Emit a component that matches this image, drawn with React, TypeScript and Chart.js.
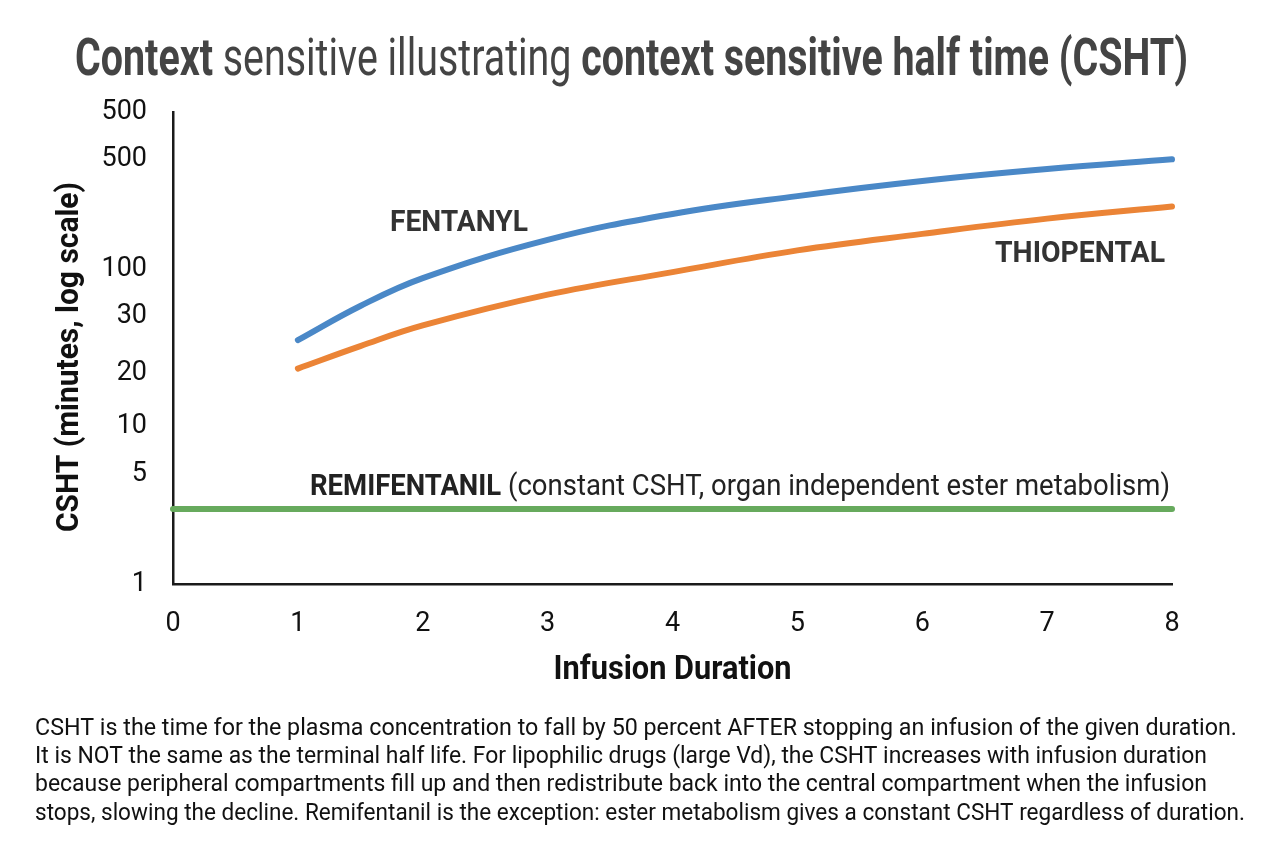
import React, { useEffect, useRef } from "react";
import { Chart, registerables } from "chart.js";

Chart.register(...registerables);

// ---------------- data ----------------
const durations = [1, 1.5, 2, 3, 4, 5, 6, 7, 8];
const fentanyl = [35.5, 58.5, 88, 154, 225, 292, 364, 434, 500];
const thiopental = [23.4, 32.5, 44, 69, 96, 132, 168, 210, 251];
const remiDurations = [0, 8];
const remifentanil = [3, 3];

const xTickValues = [0, 1, 2, 3, 4, 5, 6, 7, 8];
const yTickValues = [1, 5, 10, 22, 50, 100, 500, 1000];
const yTickLabels = ["1", "5", "10", "20", "30", "100", "500", "500"];

const titleRuns: [string, boolean][] = [
  ["Context", true],
  [" sensitive illustrating ", false],
  ["context sensitive half time (CSHT)", true],
];
const xAxisTitle = "Infusion Duration";
const yAxisTitle = "CSHT (minutes, log scale)";
const fentanylLabel = "FENTANYL";
const thiopentalLabel = "THIOPENTAL";
const remiRuns: [string, boolean][] = [
  ["REMIFENTANIL", true],
  [" (constant CSHT, organ independent ester metabolism)", false],
];
const captionLines = [
  "CSHT is the time for the plasma concentration to fall by 50 percent AFTER stopping an infusion of the given duration.",
  "It is NOT the same as the terminal half life. For lipophilic drugs (large Vd), the CSHT increases with infusion duration",
  "because peripheral compartments fill up and then redistribute back into the central compartment when the infusion",
  "stops, slowing the decline. Remifentanil is the exception: ester metabolism gives a constant CSHT regardless of duration.",
];

// ---------------- style constants ----------------
const FAMILY = "Roboto, 'Noto Sans', sans-serif";
const captionWidths = [1202, 1172, 1172, 1210];
const captionBaselines = [735, 763, 791, 820];

function runWidths(ctx: CanvasRenderingContext2D, runs: [string, boolean][], size: number) {
  return runs.map(([t, b]) => {
    ctx.font = `${b ? "bold " : ""}${size}px ${FAMILY}`;
    return ctx.measureText(t).width;
  });
}

// draws text runs horizontally condensed so the total width equals targetW
function drawRuns(
  ctx: CanvasRenderingContext2D,
  runs: [string, boolean][],
  x: number,
  y: number,
  size: number,
  targetW: number,
  color: string,
  align: "left" | "center" | "right" = "left"
) {
  const widths = runWidths(ctx, runs, size);
  const total = widths.reduce((a, b) => a + b, 0);
  const sx = targetW / total;
  const startX = align === "left" ? x : align === "center" ? x - targetW / 2 : x - targetW;
  ctx.save();
  ctx.translate(startX, y);
  ctx.scale(sx, 1);
  ctx.textAlign = "left";
  ctx.textBaseline = "alphabetic";
  ctx.fillStyle = color;
  let cx = 0;
  runs.forEach(([t, b], i) => {
    ctx.font = `${b ? "bold " : ""}${size}px ${FAMILY}`;
    ctx.fillText(t, cx, 0);
    cx += widths[i];
  });
  ctx.restore();
}

const textPlugin = {
  id: "cshtText",
  afterDraw(chart: any) {
    const ctx: CanvasRenderingContext2D = chart.ctx;
    const area = chart.chartArea;
    // Title
    drawRuns(ctx, titleRuns, 75, 75, 51, 1113, "#444444");
    // Series labels
    drawRuns(ctx, [[fentanylLabel, true]], 390, 231, 30, 138, "#333333");
    drawRuns(ctx, [[thiopentalLabel, true]], 1165, 262, 30, 170, "#333333", "right");
    drawRuns(ctx, remiRuns, 310, 495, 29, 860, "#222222");
    // X axis title
    drawRuns(ctx, [[xAxisTitle, true]], (area.left + area.right) / 2, 679, 33, 238, "#111111", "center");
    // Y axis title (rotated)
    ctx.save();
    ctx.translate(78, 357);
    ctx.rotate(-Math.PI / 2);
    drawRuns(ctx, [[yAxisTitle, true]], 0, 0, 31, 350, "#111111", "center");
    ctx.restore();
    // Caption
    captionLines.forEach((line, i) => {
      drawRuns(ctx, [[line, false]], 35, captionBaselines[i], 24, captionWidths[i], "#111111");
    });
  },
};

export default function App() {
  const canvasRef = useRef<HTMLCanvasElement | null>(null);

  useEffect(() => {
    const canvas = canvasRef.current;
    if (!canvas) return;
    const tickFont = { family: FAMILY, size: 27 };
    const chart = new Chart(canvas, {
      type: "line",
      data: {
        datasets: [
          {
            label: "Fentanyl",
            data: durations.map((d, i) => ({ x: d, y: fentanyl[i] })),
            borderColor: "#4a88c7",
            borderWidth: 6,
            borderCapStyle: "round",
            pointRadius: 0,
            tension: 0.4,
            fill: false,
            clip: false,
          },
          {
            label: "Thiopental",
            data: durations.map((d, i) => ({ x: d, y: thiopental[i] })),
            borderColor: "#eb8436",
            borderWidth: 6,
            borderCapStyle: "round",
            pointRadius: 0,
            tension: 0.4,
            fill: false,
            clip: false,
          },
          {
            label: "Remifentanil",
            data: remiDurations.map((d, i) => ({ x: d, y: remifentanil[i] })),
            borderColor: "#67aa5d",
            borderWidth: 6,
            borderCapStyle: "round",
            pointRadius: 0,
            fill: false,
            clip: false,
          },
        ],
      },
      options: {
        animation: false,
        responsive: true,
        maintainAspectRatio: false,
        layout: { padding: { top: 112, left: 0, right: 92, bottom: 154 } },
        plugins: {
          legend: { display: false },
          tooltip: { enabled: false },
          title: { display: false },
        },
        scales: {
          x: {
            type: "linear",
            min: 0,
            max: 8,
            grid: { display: false, drawTicks: false },
            border: { display: true, color: "#1a1a1a", width: 2.5 },
            ticks: {
              autoSkip: false,
              padding: 24,
              font: tickFont,
              color: "#111111",
              callback: (v: any) => String(v),
            },
            afterBuildTicks: (s: any) => {
              s.ticks = xTickValues.map((v) => ({ value: v }));
            },
            afterFit: (s: any) => {
              s.height = 110;
            },
          },
          y: {
            type: "logarithmic",
            min: 1,
            max: 1000,
            grid: { display: false, drawTicks: false },
            border: { display: true, color: "#1a1a1a", width: 2.5 },
            ticks: {
              autoSkip: false,
              padding: 26,
              font: tickFont,
              color: "#111111",
              callback: (_v: any, i: number) => yTickLabels[i],
            },
            afterBuildTicks: (s: any) => {
              s.ticks = yTickValues.map((v) => ({ value: v }));
            },
            afterFit: (s: any) => {
              s.width = 173;
            },
          },
        },
      } as any,
      plugins: [textPlugin],
    });
    return () => chart.destroy();
  }, []);

  return (
    <div style={{ position: "absolute", left: 0, top: 0, width: 1264, height: 848, background: "#ffffff" }}>
      <canvas ref={canvasRef} />
    </div>
  );
}
